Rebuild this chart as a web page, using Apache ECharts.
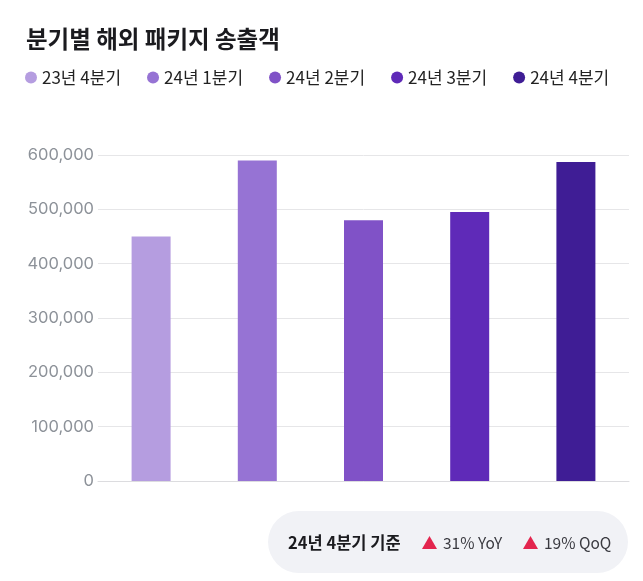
<!DOCTYPE html>
<html><head><meta charset="utf-8">
<script src="https://cdn.jsdelivr.net/npm/echarts@6/dist/echarts.min.js"></script>
<style>html,body{margin:0;padding:0;background:#fff}#c{width:643px;height:581px}</style>
</head><body><div id="c"></div>
<script>
const categories = ['23년 4분기','24년 1분기','24년 2분기','24년 3분기','24년 4분기'];
const values = [450000, 590000, 480000, 495000, 587000];
const colors = ['#B59DE0','#9673D4','#8052C7','#5F2AB8','#3F1D95'];
const yTicks = {min:0, max:600000, interval:100000};
const badgeLabel = '24년 4분기 기준';
const yoyText = '31% YoY';
const qoqText = '19% QoQ';

const FONT = '"Noto Sans CJK KR","Noto Sans",sans-serif';
const series = categories.map((name,i)=>({
  name, type:'bar', stack:'s', barWidth:39,
  itemStyle:{color:colors[i]},
  data: categories.map((_,j)=> j===i ? values[i] : '-')
}));

const chart = echarts.init(document.getElementById('c'));
chart.setOption({
  animation:false,
  textStyle:{fontFamily:FONT},
  title:{text:'분기별 해외 패키지 송출객', left:21, top:22,
    textStyle:{fontSize:23.5, fontWeight:'bold', color:'#1b1b1f', fontFamily:FONT}},
  legend:{left:20, top:64, icon:'circle', itemWidth:12, itemHeight:12, itemGap:26,
    textStyle:{fontSize:17, color:'#222', fontFamily:FONT}, data:categories},
  grid:{left:98, right:14, top:155, bottom:100},
  xAxis:{type:'category', data:categories, axisTick:{show:false}, axisLabel:{show:false},
    axisLine:{lineStyle:{color:'#dcdcdf'}}},
  yAxis:{type:'value', min:yTicks.min, max:yTicks.max, interval:yTicks.interval,
    axisLabel:{fontSize:16.5, color:'#8d9299', margin:4, fontFamily:'"Inter","Noto Sans",sans-serif',
      formatter:v=>v.toLocaleString('en-US')},
    splitLine:{lineStyle:{color:'#e6e6e8'}}},
  series,
  graphic:[
    {type:'rect', shape:{x:268, y:511, width:360, height:62, r:31}, style:{fill:'#f1f2f6'}},
    {type:'text', x:288, y:543, style:{text:badgeLabel, font:'bold 16.5px '+FONT, fill:'#1b1b1f', textVerticalAlign:'middle'}},
    {type:'polygon', shape:{points:[[422,549],[437,549],[429.5,536]]}, style:{fill:'#e3254e'}},
    {type:'text', x:443, y:543, style:{text:yoyText, font:'15.5px '+FONT, fill:'#3a3a40', textVerticalAlign:'middle'}},
    {type:'polygon', shape:{points:[[523,549],[538,549],[530.5,536]]}, style:{fill:'#e3254e'}},
    {type:'text', x:544, y:543, style:{text:qoqText, font:'15.5px '+FONT, fill:'#3a3a40', textVerticalAlign:'middle'}}
  ]
});
</script></body></html>
